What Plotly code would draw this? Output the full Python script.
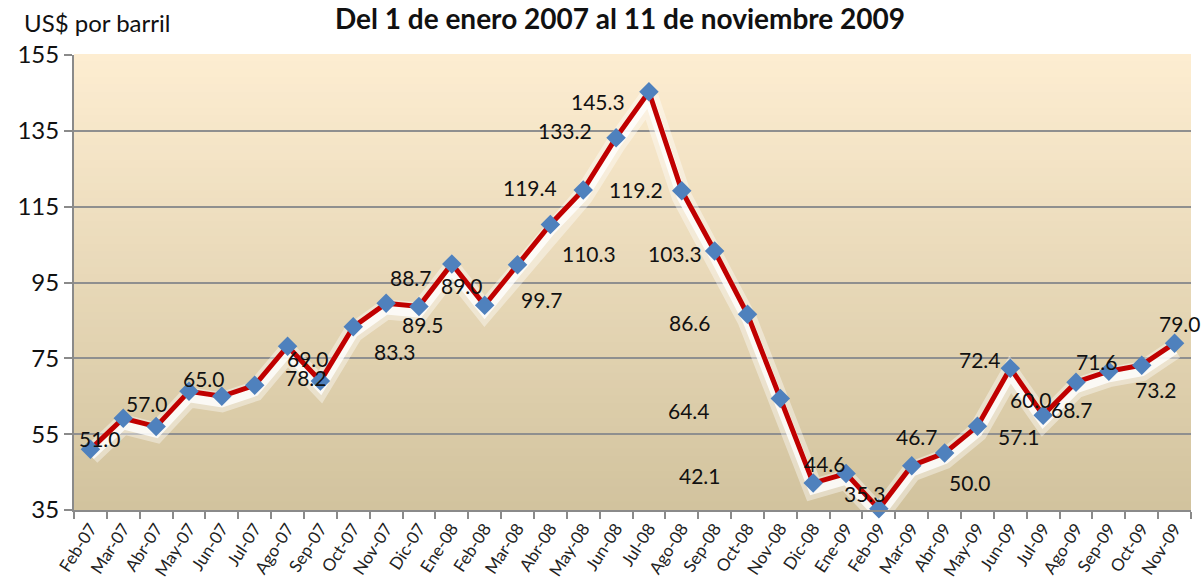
import plotly.graph_objects as go

months = ["Feb-07", "Mar-07", "Abr-07", "May-07", "Jun-07", "Jul-07", "Ago-07", "Sep-07",
          "Oct-07", "Nov-07", "Dic-07", "Ene-08", "Feb-08", "Mar-08", "Abr-08", "May-08",
          "Jun-08", "Jul-08", "Ago-08", "Sep-08", "Oct-08", "Nov-08", "Dic-08", "Ene-09",
          "Feb-09", "Mar-09", "Abr-09", "May-09", "Jun-09", "Jul-09", "Ago-09", "Sep-09",
          "Oct-09", "Nov-09"]
prices = [51.0, 59.2, 57.0, 66.3, 65.0, 67.9, 78.2, 69.0,
          83.3, 89.5, 88.7, 99.9, 89.0, 99.7, 110.3, 119.4,
          133.2, 145.3, 119.2, 103.3, 86.6, 64.4, 42.1, 44.6,
          35.3, 46.7, 50.0, 57.1, 72.4, 60.0, 68.7, 71.6,
          73.2, 79.0]
# which points carry a visible value label
labeled = [1, 0, 1, 0, 1, 0, 1, 1,
           1, 1, 1, 0, 1, 1, 1, 1,
           1, 1, 1, 1, 1, 1, 1, 1,
           1, 1, 1, 1, 1, 1, 1, 1,
           1, 1]
# label offsets in pixels (dx right, dy down) relative to each point
label_dx = [10, 0, -9, 0, -18, 0, 18, -12,
            42, 37, -8, 0, -23, 24, 39, -53,
            -51, -51, -46, -40, -57, -91, -113, -21,
            -14, 5, 25, 42, -30, -12, -4, -12,
            14, 5]
label_dy = [-11, 0, -23, 0, -18, 0, 31, -23,
            25, 21, -29, 0, -20, 35, 29, -2,
            -7, 10, -1, 2, 8, 12, -8, -10,
            -15, -29, 29, 10, -9, -16, 27, -10,
            24, -20]

y_title = "US$ por barril"
chart_title = "Del 1 de enero 2007 al 11 de noviembre 2009"
y_ticks = [35, 55, 75, 95, 115, 135, 155]

FONT = "Lato"
W, H = 1201, 587
ML, MR, MT, MB = 74, 10, 55, 77
PW, PH = W - ML - MR, H - MT - MB

fig = go.Figure()

# invisible trace anchoring the main subplot (grid, axes, background)
fig.add_trace(go.Scatter(
    x=months, y=prices, mode="lines", line=dict(width=0, color="rgba(0,0,0,0)"),
    hoverinfo="skip", showlegend=False))

# soft white glow below the line (drawn on an overlay axis shifted slightly)
fig.add_trace(go.Scatter(
    x=months, y=prices, mode="lines", yaxis="y2",
    line=dict(color="rgba(255,255,255,0.4)", width=20),
    hoverinfo="skip", showlegend=False))
fig.add_trace(go.Scatter(
    x=months, y=prices, mode="lines", yaxis="y2",
    line=dict(color="rgba(255,255,255,0.8)", width=10),
    hoverinfo="skip", showlegend=False))

fig.add_trace(go.Scatter(
    x=months, y=prices, mode="lines+markers", yaxis="y3", cliponaxis=False,
    line=dict(color="#c00000", width=5),
    marker=dict(symbol="diamond", size=15, color="#4f81bd",
                line=dict(color="#4f81bd", width=0)),
    showlegend=False))

# gradient background
n = 60
top = (253, 237, 209)
bot = (210, 195, 158)
shapes = []
for i in range(n):
    t = i / (n - 1)
    c = tuple(round(top[k] + (bot[k] - top[k]) * t) for k in range(3))
    shapes.append(dict(type="rect", xref="x domain", yref="y domain",
                       x0=0, x1=1, y0=1 - (i + 1) / n, y1=1 - i / n + 0.002,
                       fillcolor="rgb(%d,%d,%d)" % c, line=dict(width=0),
                       layer="below"))

annotations = []
for m, v, lab, dx, dy in zip(months, prices, labeled, label_dx, label_dy):
    if lab:
        annotations.append(dict(x=m, y=v, xref="x", yref="y", text="%.1f" % v,
                                showarrow=False, xshift=dx, yshift=-dy,
                                font=dict(family=FONT, size=21, color="#111")))

annotations.append(dict(x=(22 - ML) / PW, y=(H - MB - 22) / PH,
                        xref="paper", yref="paper", text=y_title,
                        showarrow=False, xanchor="left", yanchor="middle",
                        font=dict(family=FONT, size=24, color="#111")))

fig.update_layout(
    width=W, height=H,
    margin=dict(l=ML, r=MR, t=MT, b=MB),
    paper_bgcolor="white",
    plot_bgcolor="rgba(0,0,0,0)",
    title=dict(text="<b>%s</b>" % chart_title, x=620 / W, xanchor="center",
               y=1 - 19 / H, yanchor="middle",
               font=dict(family=FONT, size=28, color="#111")),
    shapes=shapes,
    annotations=annotations,
    xaxis=dict(type="category", showgrid=False, showline=True, automargin=False,
               linecolor="#8a8a8a", linewidth=2, ticks="outside",
               tickson="boundaries", ticklen=7, tickcolor="#8a8a8a",
               tickwidth=1.5, tickangle=-57,
               tickfont=dict(family=FONT, size=17, color="#222"),
               range=[-0.5, len(months) - 0.5]),
    yaxis=dict(range=[35, 155], tickvals=y_ticks, showgrid=True, automargin=False,
               gridcolor="#8f8f8f", gridwidth=2, showline=True,
               linecolor="#8a8a8a", linewidth=2, ticks="outside",
               ticklen=8, tickcolor="#8a8a8a", tickwidth=1.5,
               tickfont=dict(family=FONT, size=24, color="#111"),
               zeroline=False),
    yaxis2=dict(overlaying="y", range=[36.6, 156.6], visible=False,
                showgrid=False),
    yaxis3=dict(overlaying="y", range=[35, 155], visible=False,
                showgrid=False),
)

fig.write_html("out.html", config={"displayModeBar": False},
               post_script="document.body.style.margin='0';document.body.style.padding='0';")
